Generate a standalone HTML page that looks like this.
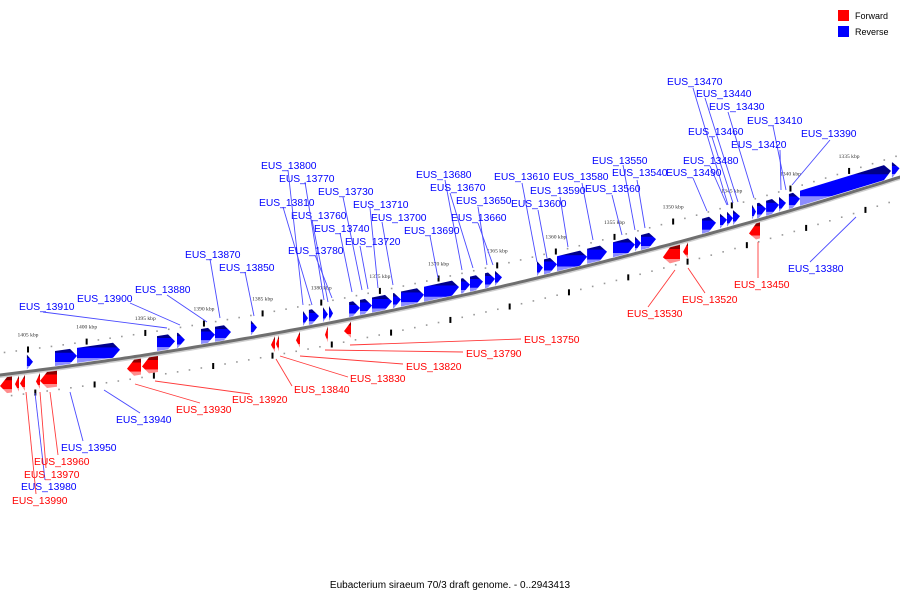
<!DOCTYPE html>
<html><head><meta charset="utf-8"><style>
html,body{margin:0;padding:0;background:#fff;}
svg{display:block;font-family:"Liberation Sans","DejaVu Sans",sans-serif;}
</style></head><body>
<svg id="chart" width="900" height="600" viewBox="0 0 900 600" xmlns="http://www.w3.org/2000/svg">
<defs>
<linearGradient id="gB" x1="0" y1="0" x2="0" y2="1"><stop offset="0" stop-color="#00008a"/><stop offset="0.22" stop-color="#00008a"/><stop offset="0.23" stop-color="#0000ff"/><stop offset="0.76" stop-color="#0000ff"/><stop offset="0.77" stop-color="#8c8cff"/><stop offset="1" stop-color="#8c8cff"/></linearGradient>
<linearGradient id="gR" x1="0" y1="0" x2="0" y2="1"><stop offset="0" stop-color="#8a0000"/><stop offset="0.22" stop-color="#8a0000"/><stop offset="0.23" stop-color="#ff0000"/><stop offset="0.76" stop-color="#ff0000"/><stop offset="0.77" stop-color="#ff8c8c"/><stop offset="1" stop-color="#ff8c8c"/></linearGradient>
</defs>
<g id="rows"></g>
<g id="axis"></g>
<g id="genes"></g>
<g id="labels"></g>
<g>
<rect x="838" y="10" width="11" height="11" fill="#ff0000"/>
<text x="855" y="19" font-size="9" fill="#000">Forward</text>
<rect x="838" y="26" width="11" height="11" fill="#0000ff"/>
<text x="855" y="35" font-size="9" fill="#000">Reverse</text>
</g>
<text x="450" y="588" font-size="10" text-anchor="middle" fill="#000">Eubacterium siraeum 70/3 draft genome. - 0..2943413</text>
</svg>
<script>
// ---- data (kbp) ----
const tickKbp = [1405,1400,1395,1390,1385,1380,1375,1370,1365,1360,1355,1350,1345,1340,1335];
const reverseGenes = [
[1405.09,1404.57],[1402.70,1400.82],[1400.82,1397.16],[1394.00,1392.47],[1392.30,1391.62],
[1390.25,1389.06],[1389.06,1387.69],[1386.00,1385.48],[1381.56,1381.13],[1381.05,1380.19],
[1379.85,1379.43],[1379.34,1379.00],[1377.63,1376.70],[1376.70,1375.67],[1375.67,1373.97],
[1373.88,1373.20],[1373.20,1371.24],[1371.24,1368.26],[1368.09,1367.32],[1367.32,1366.21],
[1366.04,1365.19],[1365.19,1364.59],[1361.61,1361.10],[1361.01,1359.90],[1359.90,1357.34],
[1357.34,1355.64],[1355.13,1353.25],[1353.25,1352.74],[1352.74,1351.46],[1347.54,1346.35],
[1346.01,1345.41],[1345.41,1344.90],[1344.90,1344.30],[1343.28,1342.94],[1342.85,1342.08],
[1342.08,1340.98],[1340.98,1340.38],[1340.13,1339.19],[1339.19,1331.43],[1331.35,1330.70]];
const forwardGenes = [
[1407.39,1406.36],[1406.11,1405.77],[1405.68,1405.26],[1404.32,1403.98],[1403.98,1402.53],
[1396.56,1395.37],[1395.28,1393.92],[1384.28,1383.94],[1383.86,1383.60],[1382.15,1381.81],
[1379.68,1379.43],[1378.06,1377.46],[1350.87,1349.42],[1349.16,1348.73],[1343.53,1342.60]];
const blueLabels = ["EUS_13470","EUS_13440","EUS_13430","EUS_13410","EUS_13460","EUS_13420","EUS_13390","EUS_13550","EUS_13480","EUS_13540","EUS_13490","EUS_13560","EUS_13610","EUS_13580","EUS_13590","EUS_13600","EUS_13680","EUS_13670","EUS_13650","EUS_13660","EUS_13690","EUS_13700","EUS_13710","EUS_13730","EUS_13720","EUS_13740","EUS_13760","EUS_13810","EUS_13770","EUS_13800","EUS_13780","EUS_13870","EUS_13850","EUS_13880","EUS_13900","EUS_13910","EUS_13940","EUS_13950","EUS_13980","EUS_13380"];
const redLabels = ["EUS_13450","EUS_13520","EUS_13530","EUS_13750","EUS_13790","EUS_13820","EUS_13830","EUS_13840","EUS_13920","EUS_13930","EUS_13960","EUS_13970","EUS_13990"];
// ---- layout for labels: [textX, textCenterY, lineX1, lineY1, lineX2, lineY2] ----
const blueLayout = [
[667,81,693,88,728,205],[696,93,705,98,738,202],[709,106,728,112,754,198],[747,120,773,126,786,190],
[688,131,712,137,733,203],[731,144,780,150,781,190],[801,133,830,140,792,185],[592,160,623,165,635,230],
[683,160,710,166,727,205],[612,172,637,180,645,228],[666,172,693,178,707,211],[585,188,612,195,622,235],
[494,176,522,183,537,262],[553,176,582,183,593,240],[530,190,560,197,568,247],[511,203,538,210,547,258],
[416,174,445,180,462,270],[430,187,450,193,473,268],[456,200,478,207,487,265],[451,217,478,223,493,265],
[404,230,430,236,438,278],[371,217,382,222,393,285],[353,204,370,208,378,288],[318,191,343,197,362,290],
[345,241,360,246,368,289],[314,228,340,233,352,292],[291,215,312,220,328,302],[259,202,283,207,312,305],
[279,178,305,182,324,300],[261,165,288,170,303,305],[288,250,315,255,332,298],[185,254,210,259,220,318],
[219,267,245,272,254,316],[135,289,167,295,207,322],[77,298,130,303,180,325],[19,306,43,312,167,328],
[116,419,140,413,104,390],[61,447,83,441,70,392],[21,486,45,480,35,393],[788,268,810,262,856,217]];
const redLayout = [
[734,284,758,278,758,242],[682,299,705,293,688,268],[627,313,648,307,675,270],[524,339,521,339,350,345],
[466,353,463,352,325,350],[406,366,403,364,300,356],[350,378,348,377,280,356],[294,389,292,386,276,359],
[232,399,250,394,155,381],[176,409,200,403,135,384],[34,461,58,455,50,392],[24,474,46,468,40,392],
[12,500,36,494,26,392]];

// ---- axis functions ----
function xOf(k){ return 28 + (1405 - k) * 11.73; }
function y0(x){ return 375 - 0.1222 * x - 0.0001086 * x * x; }
const NS = "http://www.w3.org/2000/svg";
function mk(tag, attrs, parent){ const e = document.createElementNS(NS, tag); for (const a in attrs) e.setAttribute(a, attrs[a]); parent.appendChild(e); return e; }

// axis line
const axisG = document.getElementById('axis');
let pts = [], pts2 = [];
for (let x = -5; x <= 905; x += 5){ pts.push(x + ',' + y0(x).toFixed(1)); pts2.push(x + ',' + (y0(x)+2).toFixed(1)); }
const sh = mk('polyline', {points: pts2.join(' '), fill:'none', stroke:'#cfcfcf', 'stroke-width':2}, axisG);


const al = mk('polyline', {points: pts.join(' '), fill:'none', stroke:'#6f6f6f', 'stroke-width':3}, axisG);



// tick rows
const rowsG = document.getElementById('rows');
for (let k = 1408; k >= 1329; k--){
  const x = xOf(k);
  if (x < -2 || x > 902) continue;
  const d1 = mk('rect', {x: x-0.8, y: y0(x)-22-0.8, width:1.6, height:1.6, fill:'#999'}, rowsG);
  
  
  const xl = x + 7 + 0.011 * x;
  const d2 = mk('rect', {x: xl-0.8, y: y0(xl)+22-0.8, width:1.6, height:1.6, fill:'#999'}, rowsG);
  
  
}
tickKbp.forEach(k => {
  const x = xOf(k);
  const t1 = mk('rect', {x: x-1, y: y0(x)-25, width:2, height:6, fill:'#000'}, rowsG);
  
  
  const xl = x + 7 + 0.011 * x;
  const t2 = mk('rect', {x: xl-1, y: y0(xl)+19, width:2, height:6, fill:'#000'}, rowsG);
  
  
  const tl = mk('text', {x: x, y: y0(x)-35, 'font-size':5.6, 'text-anchor':'middle', fill:'#333', 'font-family':'"Liberation Serif",serif'}, rowsG);
  tl.textContent = k + ' kbp';
  
  
});

// genes
const genesG = document.getElementById('genes');
reverseGenes.forEach(g => {
  const x1 = xOf(g[0]), x2 = xOf(g[1]);
  const h = Math.min(7, x2 - x1);
  const xh = x2 - h;
  const p = [[x1, y0(x1)-17],[xh, y0(xh)-17],[x2, y0(x2)-9],[xh, y0(xh)-2],[x1, y0(x1)-2]];
  const poly = mk('polygon', {points: p.map(q=>q[0].toFixed(1)+','+q[1].toFixed(1)).join(' '), fill:'url(#gB)'}, genesG);
  
  
});
forwardGenes.forEach(g => {
  const x1 = xOf(g[0]), x2 = xOf(g[1]);
  const h = Math.min(7, x2 - x1);
  const xh = x1 + h;
  const p = [[x1, y0(x1)+11],[xh, y0(xh)+3],[x2, y0(x2)+3],[x2, y0(x2)+19],[xh, y0(xh)+19]];
  const poly = mk('polygon', {points: p.map(q=>q[0].toFixed(1)+','+q[1].toFixed(1)).join(' '), fill:'url(#gR)'}, genesG);
  
  
});

// labels
const labG = document.getElementById('labels');
function drawLabels(names, layout, txtCol, lineCol, nm){
  names.forEach((n, i) => {
    const L = layout[i];
    const ln = mk('line', {x1:L[2], y1:L[3], x2:L[4], y2:L[5], stroke:lineCol, 'stroke-width':0.9}, labG);
    
    
    const t = mk('text', {x:L[0], y:L[1]+4, 'font-size':10.3, fill:txtCol}, labG);
    t.textContent = n;
    
    
  });
}
drawLabels(blueLabels, blueLayout, '#0000ff', '#4a4aff', 'reverse');
drawLabels(redLabels, redLayout, '#ff0000', '#ff3a3a', 'forward');
</script>
</body></html>
